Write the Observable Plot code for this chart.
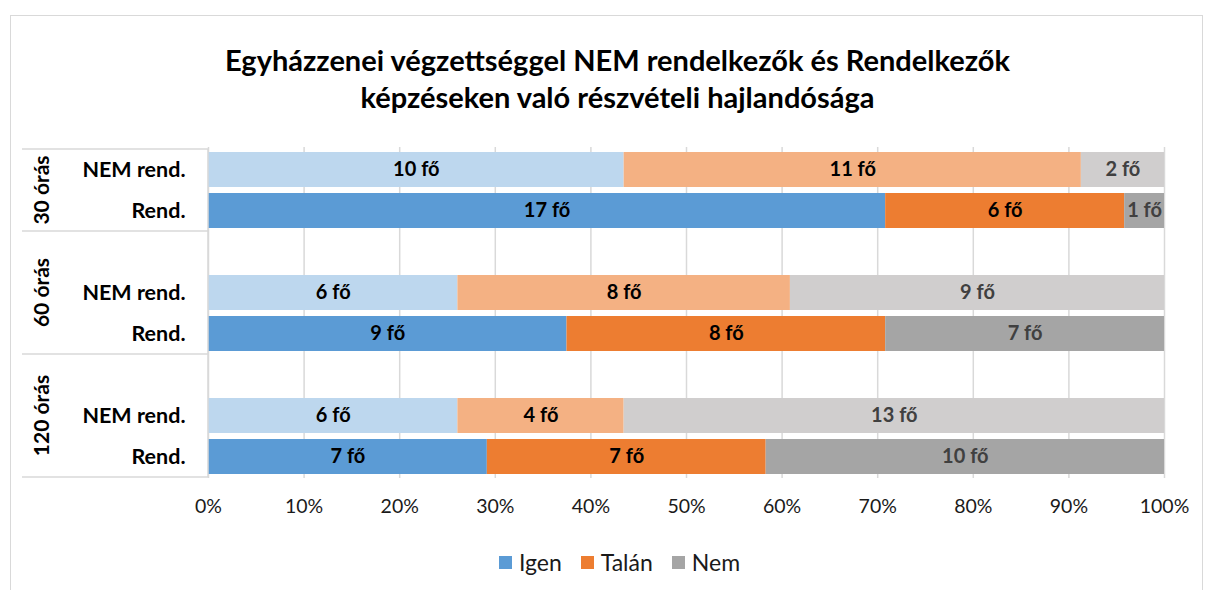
<!DOCTYPE html>
<html><head><meta charset="utf-8">
<script src="https://cdn.jsdelivr.net/npm/d3@7"></script>
<script src="https://cdn.jsdelivr.net/npm/@observablehq/plot@0.6"></script>
<style>
  body { margin:0; background:#fff; font-family: Lato, "Noto Sans", sans-serif; }
  #frame { position:absolute; left:10px; top:15px; width:1193px; height:620px; border:1.5px solid #d9d9d9; box-sizing:border-box; }
  #wrap { position:absolute; left:0; top:0; width:1215px; }
  #title { height:130px; box-sizing:border-box; padding-top:41px; padding-left:20px; text-align:center; font-weight:bold; font-size:29px; line-height:37px; color:#000; }
  #legend { display:flex; justify-content:center; align-items:center; gap:19px; padding-left:24px; margin-top:18px; font-size:23px; color:#1a1a1a; }
  #legend span.sw { display:inline-block; width:13px; height:13px; margin-right:7px; }
  #legend .it { display:flex; align-items:center; }
</style>
</head><body>
<div id="frame"></div>
<div id="wrap">
  <div id="title">Egyházzenei végzettséggel NEM rendelkezők és Rendelkezők<br>képzéseken való részvételi hajlandósága</div>
  <div id="chart"></div>
  <div id="legend"></div>
</div>
<script>
// ---- data ----
const groups = ["30 órás", "60 órás", "120 órás"];
const subgroups = ["NEM rend.", "Rend."];
const answers = ["Igen", "Talán", "Nem"];
// rows: 30 NEM rend., 30 Rend., 60 NEM rend., 60 Rend., 120 NEM rend., 120 Rend.
const igen  = [10, 17, 6, 9, 6, 7];
const talan = [11, 6, 8, 8, 4, 7];
const nem   = [2, 1, 9, 7, 13, 10];
const xTicks = [0, 0.1, 0.2, 0.3, 0.4, 0.5, 0.6, 0.7, 0.8, 0.9, 1];

// ---- styles ----
const colorsDark  = {"Igen": "#5b9bd5", "Talán": "#ed7d31", "Nem": "#a5a5a5"};
const colorsLight = {"Igen": "#bdd7ee", "Talán": "#f4b183", "Nem": "#d0cece"};
const labelColor  = {"Igen": "#000000", "Talán": "#000000", "Nem": "#404040"};

// ---- build table ----
const rows = [];
groups.forEach((g, gi) => subgroups.forEach((s, si) => rows.push({group: g, sub: s, key: g + "|" + s, i: gi * 2 + si})));
const domain = [];
groups.forEach((g, gi) => { if (gi > 0) domain.push(g + "|gap"); subgroups.forEach(s => domain.push(g + "|" + s)); });
const series = [igen, talan, nem];
const data = [];
rows.forEach(r => answers.forEach((a, ai) => data.push({key: r.key, sub: r.sub, answer: a, count: series[ai][r.i]})));

const fillOf = d => d.sub === "Rend." ? colorsDark[d.answer] : colorsLight[d.answer];
const pad = 0.155;

function leftAxis(index, scales, values, dims) {
  const y = scales.y;
  const keys = domain;
  const step = y.step ? y.step() : (y(keys[1]) - y(keys[0]));
  const bw = y.bandwidth ? y.bandwidth() : step * (1 - pad);
  const half = (step - bw) / 2;
  const g = d3.create("svg:g");
  const xL = 22, xR = dims.marginLeft;
  const starts = groups.map((gr, gi) => y(gi > 0 ? gr + "|gap" : gr + "|NEM rend.") - half);
  const ends = groups.map(gr => y(gr + "|Rend.") + bw + half);
  const lines = [...starts, ends[ends.length - 1]];
  lines.forEach(v => g.append("line").attr("x1", xL).attr("x2", xR).attr("y1", v).attr("y2", v)
    .attr("stroke", "#d9d9d9").attr("stroke-width", 1.5));
  g.append("line").attr("x1", xR).attr("x2", xR).attr("y1", lines[0]).attr("y2", lines[lines.length - 1])
    .attr("stroke", "#d9d9d9").attr("stroke-width", 1.5);
  groups.forEach((gr, gi) => {
    const cy = (starts[gi] + ends[gi]) / 2;
    g.append("text").attr("transform", `translate(42,${cy}) rotate(-90)`)
      .attr("text-anchor", "middle").attr("dy", "0.35em")
      .attr("font-size", 21).attr("font-weight", "bold").attr("fill", "#000")
      .attr("font-family", "Lato, 'Noto Sans', sans-serif").text(gr);
  });
  return g.node();
}

const chart = Plot.plot({
  width: 1215,
  height: 400,
  marginTop: 17,
  marginBottom: 52,
  marginLeft: 208,
  marginRight: 51,
  style: {fontFamily: "Lato, 'Noto Sans', sans-serif", background: "transparent"},
  x: {domain: [0, 1], axis: null},
  y: {domain, paddingInner: pad, paddingOuter: pad / 2, axis: null},
  color: {type: "identity"},
  marks: [
    Plot.ruleX(xTicks, {stroke: "#d9d9d9", strokeWidth: 1.5}),
    Plot.barX(data, Plot.stackX({offset: "normalize", x: "count", y: "key", fill: fillOf, z: "answer"})),
    Plot.text(data, Plot.stackX({offset: "normalize", x: "count", y: "key", z: "answer",
      text: d => d.count + " fő", fill: d => labelColor[d.answer], fontSize: 20, fontWeight: "bold"})),
    Plot.text(rows, {y: "key", text: "sub", frameAnchor: "left", textAnchor: "end", dx: -23,
      fontSize: 21.5, fontWeight: "bold", fill: "#000"}),
    leftAxis,
    Plot.axisX(xTicks, {tickSize: 0, tickPadding: 21, tickFormat: d3.format(".0%"), fontSize: 19.5, color: "#1a1a1a", label: null})
  ]
});
document.getElementById("chart").appendChild(chart);

const legend = document.getElementById("legend");
answers.forEach(a => {
  const it = document.createElement("div");
  it.className = "it";
  const sw = document.createElement("span");
  sw.className = "sw";
  sw.style.background = colorsDark[a];
  it.appendChild(sw);
  it.appendChild(document.createTextNode(a));
  legend.appendChild(it);
});
</script>
</body></html>
